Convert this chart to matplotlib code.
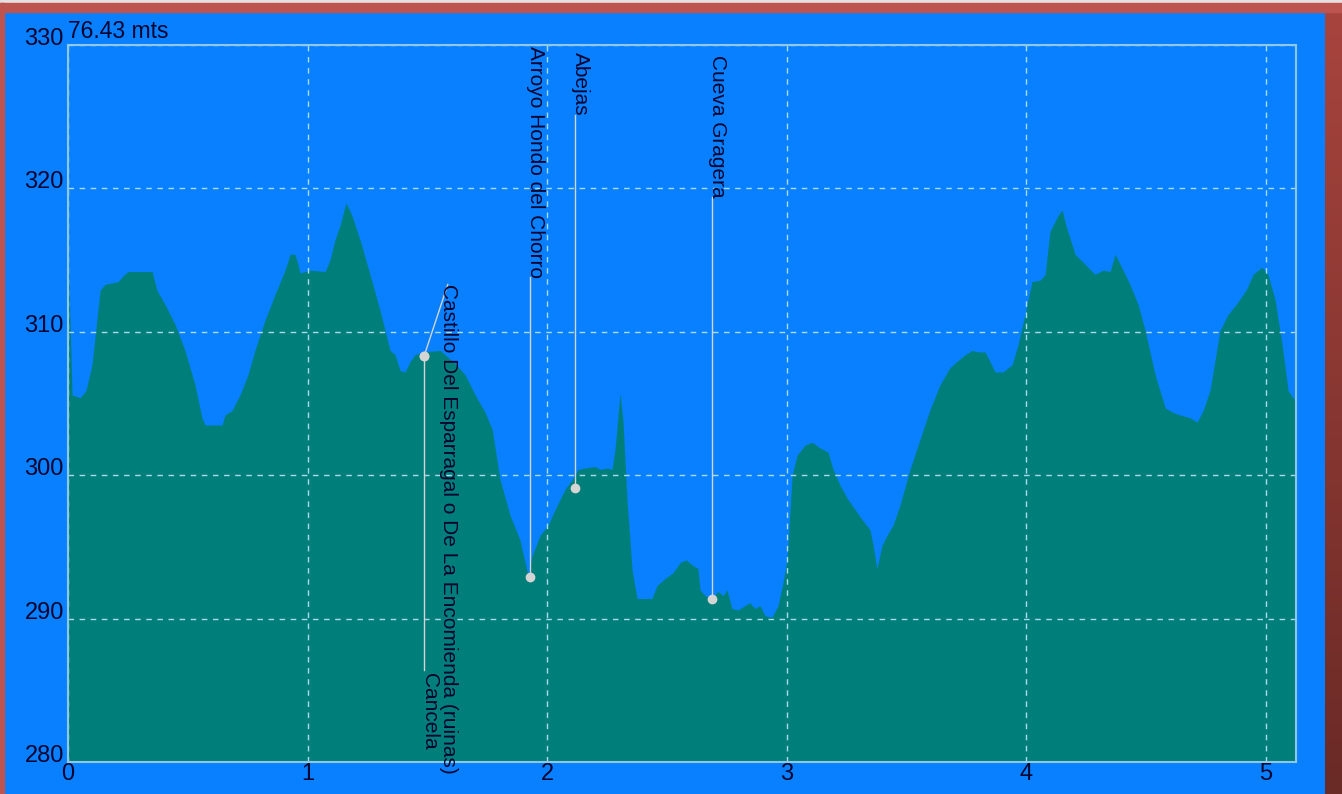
from matplotlib import pyplot as plt
import numpy as np

# Elevation profile (km, m)
distance_km = [
    0.000, 0.017, 0.050, 0.075, 0.100, 0.134, 0.154, 0.209, 0.230, 0.250,
    0.351, 0.371, 0.405, 0.447, 0.488, 0.530, 0.559, 0.572, 0.643, 0.655,
    0.684, 0.718, 0.751, 0.780, 0.822, 0.864, 0.906, 0.927, 0.947, 0.960,
    0.968, 1.010, 1.073, 1.093, 1.114, 1.135, 1.160, 1.185, 1.219, 1.260,
    1.302, 1.344, 1.365, 1.386, 1.407, 1.427, 1.448, 1.490, 1.553, 1.573,
    1.615, 1.657, 1.699, 1.740, 1.770, 1.803, 1.845, 1.886, 1.920, 1.937,
    1.970, 2.003, 2.033, 2.074, 2.104, 2.129, 2.158, 2.200, 2.220, 2.250,
    2.270, 2.283, 2.304, 2.316, 2.333, 2.354, 2.375, 2.408, 2.437, 2.458,
    2.492, 2.525, 2.554, 2.579, 2.608, 2.629, 2.638, 2.659, 2.688, 2.713,
    2.734, 2.750, 2.771, 2.796, 2.825, 2.846, 2.867, 2.888, 2.909, 2.938,
    2.963, 2.984, 3.001, 3.022, 3.043, 3.076, 3.105, 3.139, 3.172, 3.193,
    3.222, 3.255, 3.285, 3.314, 3.347, 3.360, 3.376, 3.397, 3.418, 3.443,
    3.472, 3.514, 3.556, 3.598, 3.639, 3.681, 3.715, 3.744, 3.773, 3.798,
    3.827, 3.848, 3.869, 3.902, 3.940, 3.965, 3.994, 4.023, 4.057, 4.078,
    4.098, 4.132, 4.149, 4.165, 4.203, 4.245, 4.286, 4.320, 4.349, 4.370,
    4.391, 4.432, 4.466, 4.495, 4.537, 4.579, 4.608, 4.641, 4.683, 4.712,
    4.737, 4.766, 4.787, 4.808, 4.841, 4.875, 4.917, 4.946, 4.983, 5.008,
    5.038, 5.067, 5.092, 5.113, 5.125,
]
elevation_m = [
    315.7, 305.6, 305.4, 305.9, 307.7, 312.9, 313.3, 313.5, 313.9, 314.2,
    314.2, 312.9, 311.9, 310.5, 308.7, 306.3, 304.0, 303.5, 303.5, 304.2,
    304.5, 305.6, 307.0, 308.7, 310.8, 312.6, 314.3, 315.4, 315.4, 314.7,
    314.1, 314.3, 314.2, 315.0, 316.4, 317.4, 319.0, 318.1, 316.4, 314.0,
    311.5, 308.7, 308.4, 307.3, 307.2, 307.9, 308.4, 308.6, 308.7, 308.4,
    307.8, 307.0, 305.6, 304.4, 303.2, 299.7, 297.2, 295.5, 293.0, 294.4,
    295.8, 296.5, 297.6, 299.0, 299.7, 300.4, 300.5, 300.6, 300.4, 300.5,
    300.4, 301.8, 305.7, 303.8, 298.3, 293.4, 291.4, 291.4, 291.4, 292.3,
    292.8, 293.2, 293.9, 294.1, 293.7, 293.5, 292.0, 291.6, 291.4, 291.9,
    291.6, 292.0, 290.7, 290.6, 290.9, 291.1, 290.7, 290.9, 290.2, 290.1,
    290.9, 292.5, 294.1, 300.0, 301.4, 302.1, 302.3, 301.9, 301.6, 300.4,
    299.3, 298.3, 297.6, 296.9, 296.2, 295.1, 293.5, 295.1, 295.8, 296.5,
    297.9, 300.4, 302.5, 304.6, 306.3, 307.5, 308.0, 308.4, 308.7, 308.6,
    308.6, 307.9, 307.2, 307.2, 307.7, 309.1, 311.2, 313.5, 313.6, 314.0,
    317.0, 318.1, 318.5, 317.4, 315.4, 314.7, 314.0, 314.3, 314.2, 315.4,
    314.7, 313.3, 311.9, 310.1, 307.0, 304.7, 304.4, 304.2, 304.0, 303.7,
    304.5, 305.9, 308.0, 310.1, 311.2, 311.9, 312.9, 314.0, 314.5, 314.0,
    312.2, 309.1, 305.9, 305.4, 305.2,
]

# Waypoints
waypoint_names = ["Cancela", "Arroyo Hondo del Chorro", "Abejas", "Cueva Gragera"]
waypoint_km = [1.486, 1.928, 2.116, 2.688]
waypoint_elev = [308.3, 292.9, 299.1, 291.4]
label_top = [286.2, 329.9, 329.5, 329.3]  # where each vertical label starts
line_end = [286.4, 313.8, 325.1, 319.4]

ruin_name = "Castillo Del Esparragal o De La Encomienda (ruinas)"
ruin_km = 1.486
ruin_elev = 308.3
ruin_label_km = 1.565
ruin_leader = (1.585, 313.3)

total_label = "76.43 mts"

x_ticks = [0, 1, 2, 3, 4, 5]
y_ticks = [280, 290, 300, 310, 320, 330]

BLUE = "#0880FF"
TEAL = "#007F7A"
TEXT = "#050530"
GRID = "#A8DCEC"
MARK = "#D4D4D4"

plt.rcParams["font.family"] = ["Liberation Sans", "DejaVu Sans"]

fig = plt.figure(figsize=(13.42, 7.94), dpi=100, facecolor=BLUE)

# Window frame: light strip, red top/left, dark-red gradient on the right
W, H = 1342, 794
fig.patches.append(plt.Rectangle((0, 1 - 3 / H), 1, 3 / H, transform=fig.transFigure,
                                 color="#E6E0E0", zorder=0))
fig.patches.append(plt.Rectangle((0, 1 - 12 / H), 1, 9 / H, transform=fig.transFigure,
                                 color="#BE5450", zorder=0))
fig.patches.append(plt.Rectangle((0, 0), 4 / W, 1 - 3 / H, transform=fig.transFigure,
                                 color="#BE5450", zorder=0))
side = fig.add_axes([1325 / W, 0, 17 / W, 1 - 3 / H])
side.imshow(np.linspace(0, 1, 100).reshape(-1, 1), aspect="auto",
            cmap=plt.matplotlib.colors.LinearSegmentedColormap.from_list(
                "frame", ["#A8443E", "#6A2A26"]))
side.axis("off")

ax = fig.add_axes([68 / W, 32 / H, (1296 - 68) / W, (762 - 45) / H])
ax.set_facecolor(BLUE)
ax.fill_between(distance_km, elevation_m, 280, color=TEAL, linewidth=0, zorder=1)

ax.set_xlim(0, distance_km[-1])
ax.set_ylim(280, 330)
ax.set_xticks(x_ticks)
ax.set_yticks(y_ticks)
ax.grid(True, color=GRID, linestyle=(0, (4, 4)), linewidth=1, zorder=2)
ax.set_axisbelow(False)
for spine in ax.spines.values():
    spine.set_color("#8FC8E6")
    spine.set_linewidth(1.5)
    spine.set_zorder(3)

ax.tick_params(length=0, labelsize=17, labelcolor=TEXT)
ax.tick_params(axis="x", pad=1)
ax.tick_params(axis="y", pad=3)
for lbl in ax.get_yticklabels():
    lbl.set_verticalalignment("baseline")

ax.annotate(total_label, xy=(0, 1), xycoords="axes fraction", xytext=(0, 7),
            textcoords="offset pixels", ha="left", va="baseline",
            fontsize=16.5, color=TEXT)

# Waypoint markers with vertical labels
for name, x, y, top, end in zip(waypoint_names, waypoint_km, waypoint_elev,
                                label_top, line_end):
    ax.plot([x, x], [y, end], color=MARK, linewidth=1, zorder=4, clip_on=False)
    ax.text(x, top, name, rotation=-90, rotation_mode="anchor", ha="left",
            va="baseline", fontsize=15, color=TEXT, zorder=6, clip_on=False)
    ax.plot(x, y, "o", color=MARK, markersize=6, zorder=5)

ax.plot([ruin_km, ruin_leader[0]], [ruin_elev, ruin_leader[1]], color=MARK,
        linewidth=1, zorder=4)
ax.text(ruin_label_km, ruin_leader[1], ruin_name, rotation=-90,
        rotation_mode="anchor", ha="left", va="baseline", fontsize=15,
        color=TEXT, zorder=6, clip_on=False)
ax.plot(ruin_km, ruin_elev, "o", color=MARK, markersize=6, zorder=5)

fig.savefig("out.png", dpi=100, facecolor=BLUE)
